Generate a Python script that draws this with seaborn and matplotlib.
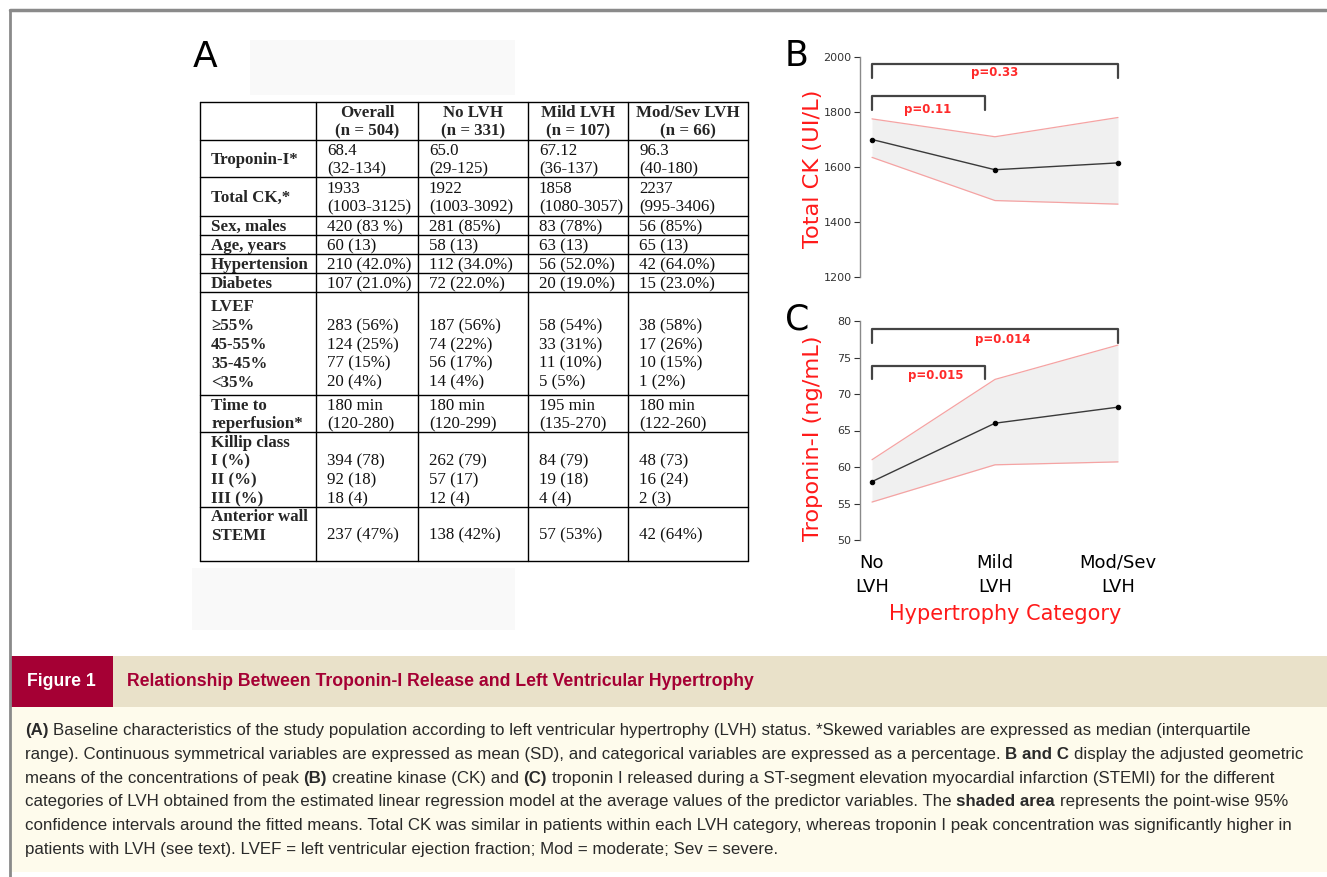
import matplotlib
matplotlib.use("Agg")
import matplotlib.pyplot as plt
import numpy as np
import pandas as pd
import seaborn as sns
from matplotlib import font_manager
from matplotlib.font_manager import FontProperties
from matplotlib.patches import Rectangle

sns.set_theme(style="white")
plt.rcParams['font.family'] = ['DejaVu Sans']

W, H = 1327, 877

# ---- panel B / C data ----
categories = ["No\nLVH", "Mild\nLVH", "Mod/Sev\nLVH"]
ck_mean = [1700, 1590, 1615]
ck_upper = [1775, 1710, 1780]
ck_lower = [1635, 1478, 1465]
tn_mean = [58.0, 66.0, 68.2]
tn_upper = [61.0, 72.0, 76.7]
tn_lower = [55.2, 60.3, 60.7]
ck_pvalues = ["p=0.11", "p=0.33"]
tn_pvalues = ["p=0.015", "p=0.014"]

# ---- panel A table ----
table_columns = ["Overall\n(n = 504)", "No LVH\n(n = 331)", "Mild LVH\n(n = 107)", "Mod/Sev LVH\n(n = 66)"]
row_labels = ["Troponin-I*", "Total CK,*", "Sex, males", "Age, years", "Hypertension", "Diabetes",
              "LVEF\n≥55%\n45-55%\n35-45%\n<35%", "Time to\nreperfusion*",
              "Killip class\nI (%)\nII (%)\nIII (%)", "Anterior wall\nSTEMI\n "]
overall = ["68.4\n(32-134)", "1933\n(1003-3125)", "420 (83 %)", "60 (13)", "210 (42.0%)", "107 (21.0%)",
           "\n283 (56%)\n124 (25%)\n77 (15%)\n20 (4%)", "180 min\n(120-280)",
           "\n394 (78)\n92 (18)\n18 (4)", "237 (47%)"]
no_lvh = ["65.0\n(29-125)", "1922\n(1003-3092)", "281 (85%)", "58 (13)", "112 (34.0%)", "72 (22.0%)",
          "\n187 (56%)\n74 (22%)\n56 (17%)\n14 (4%)", "180 min\n(120-299)",
          "\n262 (79)\n57 (17)\n12 (4)", "138 (42%)"]
mild_lvh = ["67.12\n(36-137)", "1858\n(1080-3057)", "83 (78%)", "63 (13)", "56 (52.0%)", "20 (19.0%)",
            "\n58 (54%)\n33 (31%)\n11 (10%)\n5 (5%)", "195 min\n(135-270)",
            "\n84 (79)\n19 (18)\n4 (4)", "57 (53%)"]
modsev_lvh = ["96.3\n(40-180)", "2237\n(995-3406)", "56 (85%)", "65 (13)", "42 (64.0%)", "15 (23.0%)",
              "\n38 (58%)\n17 (26%)\n10 (15%)\n1 (2%)", "180 min\n(122-260)",
              "\n48 (73)\n16 (24)\n2 (3)", "42 (64%)"]

caption_title = "Relationship Between Troponin-I Release and Left Ventricular Hypertrophy"
caption_lines = [
    [("(A)", True), (" Baseline characteristics of the study population according to left ventricular hypertrophy (LVH) status. *Skewed variables are expressed as median (interquartile", False)],
    [("range). Continuous symmetrical variables are expressed as mean (SD), and categorical variables are expressed as a percentage. ", False), ("B and C", True), (" display the adjusted geometric", False)],
    [("means of the concentrations of peak ", False), ("(B)", True), (" creatine kinase (CK) and ", False), ("(C)", True), (" troponin I released during a ST-segment elevation myocardial infarction (STEMI) for the different", False)],
    [("categories of LVH obtained from the estimated linear regression model at the average values of the predictor variables. The ", False), ("shaded area", True), (" represents the point-wise 95%", False)],
    [("confidence intervals around the fitted means. Total CK was similar in patients within each LVH category, whereas troponin I peak concentration was significantly higher in", False)],
    [("patients with LVH (see text). LVEF = left ventricular ejection fraction; Mod = moderate; Sev = severe.", False)],
]

installed = {f.name for f in font_manager.fontManager.ttflist}
narrow = 'Liberation Sans Narrow' if 'Liberation Sans Narrow' in installed else 'Liberation Sans'
serif = ['Liberation Serif', 'DejaVu Serif']
body_font = ['Liberation Sans', 'DejaVu Sans']

fig = plt.figure(figsize=(W / 100, H / 100), dpi=100)
bg = fig.add_axes([0, 0, 1, 1])
bg.set_xlim(0, W)
bg.set_ylim(H, 0)
bg.axis('off')
renderer = fig.canvas.get_renderer()


def text_width(s, size, bold, family=body_font):
    fp = FontProperties(family=family, size=size, weight='bold' if bold else 'normal')
    w, h, d = renderer.get_text_width_height_descent(s, fp, ismath=False)
    return w


# frame
bg.plot([10, 10], [10, H], color='#8a8a8a', lw=2)
bg.plot([10, W - 1], [10, 10], color='#8a8a8a', lw=2.5)

# faint boxes behind panel A
bg.add_patch(Rectangle((250, 40), 265, 55, facecolor='#f9f9f9', edgecolor='none'))
bg.add_patch(Rectangle((192, 568), 323, 62, facecolor='#f9f9f9', edgecolor='none'))
bg.text(205, 57, "A", fontsize=26, ha='center', va='center', color='black')

# ---- table ----
col_edges = [200, 316, 418, 528, 628, 748]
row_edges = [102, 140, 177, 216, 235, 254, 273, 292, 395, 432, 507, 561]
tsize = 12.2
lsp = 1.24
for y in row_edges:
    bg.plot([col_edges[0], col_edges[-1]], [y, y], color='black', lw=1.0)
for x in col_edges:
    bg.plot([x, x], [row_edges[0], row_edges[-1]], color='black', lw=1.0)

for j, head in enumerate(table_columns):
    cx = (col_edges[j + 1] + col_edges[j + 2]) / 2
    bg.text(cx, (row_edges[0] + row_edges[1]) / 2 + 1, head, family=serif, fontsize=tsize,
            fontweight='bold', ha='center', va='center', linespacing=lsp)

columns_values = [overall, no_lvh, mild_lvh, modsev_lvh]
for i, lab in enumerate(row_labels):
    cy = (row_edges[i + 1] + row_edges[i + 2]) / 2 + 1.5
    bg.text(col_edges[0] + 11, cy, lab, family=serif, fontsize=tsize, fontweight='bold',
            ha='left', va='center', linespacing=lsp)
    for j, vals in enumerate(columns_values):
        bg.text(col_edges[j + 1] + 11, cy, vals[i], family=serif, fontsize=tsize,
                ha='left', va='center', linespacing=lsp, color='#111111')

# ---- panels B and C ----
def fx(px):
    return px / W

def fy(py):
    return 1 - py / H

pos = np.arange(len(categories))
ax_left, ax_right = 860, 1160
step = 123
x_lo = -(872 - ax_left) / step
x_hi = 2 + (ax_right - 1118) / step


def panel(top, bottom, mean, upper, lower, ylim, ticks, ylabel, label_y, pvals, brackets, letter, letter_y, show_x):
    ax = fig.add_axes([fx(ax_left), fy(bottom), fx(ax_right - ax_left), (bottom - top) / H])
    ax.patch.set_alpha(0)
    df = pd.DataFrame({'pos': pos, 'mean': mean, 'upper': upper, 'lower': lower})
    ax.fill_between(df['pos'], df['lower'], df['upper'], color='#f0f0f0', lw=0, zorder=1)
    sns.lineplot(data=df, x='pos', y='upper', color='#f5a3a3', lw=0.9, ax=ax, zorder=2)
    sns.lineplot(data=df, x='pos', y='lower', color='#f5a3a3', lw=0.9, ax=ax, zorder=2)
    sns.lineplot(data=df, x='pos', y='mean', color='#3a3a3a', lw=1.0, marker='o', markersize=3.2,
                 markeredgecolor='black', markerfacecolor='black', ax=ax, zorder=3)
    ax.set_xlim(x_lo, x_hi)
    ax.set_ylim(*ylim)
    ax.set_yticks(ticks)
    ax.set_yticklabels([str(t) for t in ticks])
    ax.tick_params(axis='y', labelsize=8, colors='#333333', length=4, width=0.8, left=True, pad=2)
    for s in ['top', 'right', 'bottom']:
        ax.spines[s].set_visible(False)
    ax.spines['left'].set_color('#8a8a8a')
    ax.spines['left'].set_linewidth(1.0)
    ax.set_ylabel(ylabel, color='#ff1a1a', fontsize=16.2)
    ax.yaxis.label.set(ha='center', va='center')
    ax.yaxis.set_label_coords(-0.157, label_y)
    if show_x:
        ax.set_xticks(pos)
        ax.set_xticklabels(categories, fontsize=13, color='black', linespacing=1.45)
        ax.tick_params(axis='x', length=0, pad=10)
        ax.set_xlabel("Hypertrophy Category", color='#ff1a1a', fontsize=15, labelpad=7)
        ax.xaxis.set_label_coords(0.485, -0.29)
    else:
        ax.set_xticks([])
        ax.set_xlabel("")
    for (x0, x1, ytop, ybot, tx, ty), lab in zip(brackets, pvals):
        ax.plot([x0, x0, x1, x1], [ybot, ytop, ytop, ybot], color='#444444', lw=1.6, clip_on=False, zorder=4)
        ax.text(tx, ty, lab, color='#ff2a2a', fontsize=8.5, fontweight='bold', ha='center', va='center')
    fig.text(fx(797), fy(letter_y), letter, fontsize=25, ha='center', va='center', color='black')
    return ax


panel(57, 277, ck_mean, ck_upper, ck_lower, (1200, 2000), [1200, 1400, 1600, 1800, 2000],
      "Total CK (UI/L)", 0.49, ck_pvalues,
      [(0, 0.92, 1858, 1807, 0.455, 1809), (0, 2, 1975, 1923, 1.0, 1942)], "B", 56, False)
panel(321, 540, tn_mean, tn_upper, tn_lower, (50, 80), [50, 55, 60, 65, 70, 75, 80],
      "Troponin-I (ng/mL)", 0.465, tn_pvalues,
      [(0, 0.92, 73.9, 72.0, 0.52, 72.6), (0, 2, 78.9, 77.0, 1.06, 77.5)], "C", 319, True)

# ---- caption ----
bg.add_patch(Rectangle((11, 656), W - 11, 51, facecolor='#e9e1c9', edgecolor='none'))
bg.add_patch(Rectangle((11, 656), 102, 51, facecolor='#a50034', edgecolor='none'))
bg.add_patch(Rectangle((11, 707), W - 11, 165, facecolor='#fefbec', edgecolor='none'))
head_font = [narrow, 'DejaVu Sans']
hsize = 13.5 * 623 / text_width(caption_title, 13.5, True, head_font)
bg.text(61, 682, "Figure 1", family=head_font, fontsize=hsize, fontweight='bold',
        color='white', ha='center', va='center')
bg.text(127, 682, caption_title, family=head_font, fontsize=hsize, fontweight='bold',
        color='#a50034', ha='left', va='center')


def run_width(runs, size):
    total = 0
    sp = text_width("a a", size, False) - text_width("aa", size, False)
    for s, b in runs:
        core = s.strip(' ')
        nspace = len(s) - len(core)
        total += nspace * sp + (text_width(core, size, b) if core else 0)
    return total


base = 11.0
csize = base * 1268 / run_width(caption_lines[1], base)
space = text_width("a a", csize, False) - text_width("aa", csize, False)
line_y = [730, 754, 778, 801, 825, 849]
for runs, y in zip(caption_lines, line_y):
    x = 25
    for s, b in runs:
        lead = len(s) - len(s.lstrip(' '))
        trail = len(s) - len(s.rstrip(' '))
        core = s.strip(' ')
        x += lead * space
        if core:
            bg.text(x, y + 5, core, family=body_font, fontsize=csize, fontweight='bold' if b else 'normal',
                    color='#2a2a2a', ha='left', va='baseline')
            x += text_width(core, csize, b)
        x += trail * space

fig.savefig("out.png", dpi=100)
